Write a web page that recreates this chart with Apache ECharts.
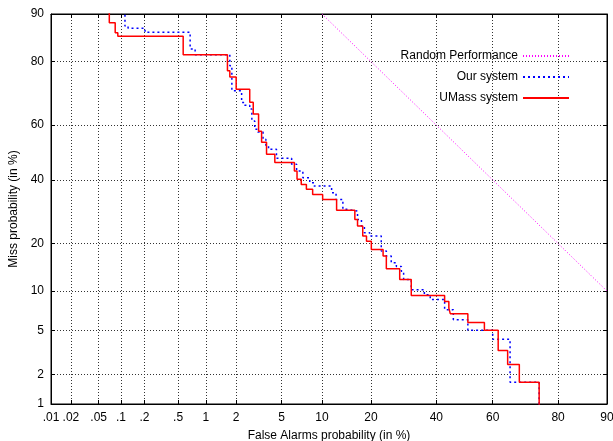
<!DOCTYPE html>
<html>
<head>
<meta charset="utf-8">
<script src="https://cdn.jsdelivr.net/npm/echarts@6/dist/echarts.min.js"></script>
<style>
html,body{margin:0;padding:0;background:#fff;}
#chart{width:613px;height:441px;}
</style>
</head>
<body>
<div id="chart"></div>
<script>
// ---- data (percent) ----
const xTickValues = [0.01, 0.02, 0.05, 0.1, 0.2, 0.5, 1, 2, 5, 10, 20, 40, 60, 80, 90];
const xTickLabels = ['.01', '.02', '.05', '.1', '.2', '.5', '1', '2', '5', '10', '20', '40', '60', '80', '90'];
const yTickValues = [1, 2, 5, 10, 20, 40, 60, 80, 90];
const yTickLabels = ['1', '2', '5', '10', '20', '40', '60', '80', '90'];

const randomFA = [10, 20, 40, 60, 80, 90];
const randomMiss = [90, 80, 60, 40, 20, 10];

const ourFA = [0.113, 0.113, 0.124, 0.203, 0.68, 0.77, 1.74, 1.82, 2.25, 2.41, 2.67, 2.79, 2.96, 3.15, 3.5, 3.7, 3.9, 4.54, 6.0, 6.55, 7.3, 8.2, 8.8, 11.6, 12.4, 13.7, 14.4, 16.8, 17.7, 18.4, 19.7, 22.7, 24.1, 25.5, 27.0, 28.5, 29.2, 31.6, 35.9, 37.9, 42.9, 46.0, 51.2, 60.0, 65.9, 74.9];
const ourMiss = [95, 87.9, 87.5, 86.7, 83.1, 81.7, 78.9, 71.6, 67.8, 66.9, 65.6, 61.5, 58.5, 57.5, 54.9, 52.4, 51.2, 47.9, 45.7, 43.2, 40.8, 39.0, 37.8, 35.5, 33.2, 30.0, 29.4, 26.8, 24.8, 22.9, 22.0, 18.1, 16.9, 15.4, 14.6, 13.6, 12.0, 10.2, 9.4, 8.7, 7.3, 6.1, 5.0, 4.2, 1.68, 0.5];

const umassFA = [0.070, 0.070, 0.084, 0.091, 0.57, 1.65, 1.74, 2.0, 2.67, 2.87, 3.2, 3.4, 3.75, 4.4, 6.3, 6.6, 7.1, 7.75, 8.6, 10.1, 12.5, 16.2, 16.8, 18.0, 18.9, 20.1, 23.2, 24.1, 28.0, 31.6, 42.9, 44.4, 44.9, 51.2, 57.1, 61.9, 65.1, 68.9, 74.9];
const umassMiss = [95, 88.5, 86.6, 85.9, 81.7, 77.5, 75.8, 72.1, 67.9, 63.9, 57.8, 53.8, 49.4, 46.3, 43.2, 40.2, 38.4, 36.7, 34.9, 33.2, 29.7, 26.8, 24.8, 22.0, 20.6, 18.5, 16.9, 14.1, 12.0, 9.3, 8.4, 7.5, 6.8, 5.8, 5.0, 3.35, 2.5, 1.68, 0.5];

// ---- normal deviate (probit) scale ----
function probit(p) {
  const a=[-3.969683028665376e+01,2.209460984245205e+02,-2.759285104469687e+02,1.383577518672690e+02,-3.066479806614716e+01,2.506628277459239e+00];
  const b=[-5.447609879822406e+01,1.615858368580409e+02,-1.556989798598866e+02,6.680131188771972e+01,-1.328068155288572e+01];
  const c=[-7.784894002430293e-03,-3.223964580411365e-01,-2.400758277161838e+00,-2.549732539343734e+00,4.374664141464968e+00,2.938163982698783e+00];
  const d=[7.784695709041462e-03,3.224671290700398e-01,2.445134137142996e+00,3.754408661907416e+00];
  const pl=0.02425, ph=1-pl;
  if (p < pl) { const q=Math.sqrt(-2*Math.log(p)); return (((((c[0]*q+c[1])*q+c[2])*q+c[3])*q+c[4])*q+c[5])/((((d[0]*q+d[1])*q+d[2])*q+d[3])*q+1); }
  if (p <= ph) { const q=p-0.5, r=q*q; return (((((a[0]*r+a[1])*r+a[2])*r+a[3])*r+a[4])*r+a[5])*q/(((((b[0]*r+b[1])*r+b[2])*r+b[3])*r+b[4])*r+1); }
  const q=Math.sqrt(-2*Math.log(1-p)); return -(((((c[0]*q+c[1])*q+c[2])*q+c[3])*q+c[4])*q+c[5])/((((d[0]*q+d[1])*q+d[2])*q+d[3])*q+1);
}
const pz = v => probit(v / 100);
const pairs = (xs, ys) => xs.map((x, i) => [pz(x), pz(ys[i])]);

const xTickZ = xTickValues.map(pz);
const yTickZ = yTickValues.map(pz);
function labelFor(zs, labels) {
  return function (v) {
    let best = 0, bd = Infinity;
    zs.forEach((z, i) => { const dd = Math.abs(z - v); if (dd < bd) { bd = dd; best = i; } });
    return labels[best];
  };
}

const FONT = 'Liberation Sans, Arial, sans-serif';
const gridLine = { show: true, lineStyle: { color: '#333', width: 1, type: [1, 2] } };
const legendCommon = { right: 43, padding: 0, itemWidth: 46, itemHeight: 10, align: 'right', itemGap: 0,
  itemStyle: { opacity: 0 }, textStyle: { fontFamily: FONT, fontSize: 12, color: '#000' } };

const chart = echarts.init(document.getElementById('chart'), null, { renderer: 'canvas' });
chart.setOption({
  animation: false,
  backgroundColor: '#fff',
  textStyle: { fontFamily: FONT },
  grid: { left: 51, right: 6, top: 14, bottom: 37, containLabel: false, outerBoundsMode: 'none',
    show: true, borderColor: '#000', borderWidth: 1, backgroundColor: 'transparent' },
  xAxis: [{
    type: 'value', min: pz(0.01), max: pz(90),
    name: 'False Alarms probability (in %)', nameLocation: 'middle', nameGap: 26,
    nameTextStyle: { fontFamily: FONT, fontSize: 12, color: '#000' },
    axisLine: { show: true, onZero: false, lineStyle: { color: '#000', width: 1 } },
    axisTick: { show: true, inside: true, length: 4, customValues: xTickZ, lineStyle: { color: '#000' } },
    axisLabel: { show: true, customValues: xTickZ, formatter: labelFor(xTickZ, xTickLabels), margin: 8, fontFamily: FONT, fontSize: 12, color: '#000' },
    splitLine: gridLine
  }, {
    type: 'value', position: 'top', min: pz(0.01), max: pz(90),
    axisLine: { show: true, onZero: false, lineStyle: { color: '#000' } },
    axisTick: { show: true, inside: true, length: 4, customValues: xTickZ, lineStyle: { color: '#000' } },
    axisLabel: { show: false }, splitLine: { show: false }
  }],
  yAxis: [{
    type: 'value', min: pz(1), max: pz(90),
    name: 'Miss probability (in %)', nameLocation: 'middle', nameGap: 30,
    nameTextStyle: { fontFamily: FONT, fontSize: 12, color: '#000' },
    axisLine: { show: true, onZero: false, lineStyle: { color: '#000', width: 1 } },
    axisTick: { show: true, inside: true, length: 4, customValues: yTickZ, lineStyle: { color: '#000' } },
    axisLabel: { show: true, customValues: yTickZ, formatter: labelFor(yTickZ, yTickLabels), margin: 7, fontFamily: FONT, fontSize: 12, color: '#000' },
    splitLine: gridLine
  }, {
    type: 'value', position: 'right', min: pz(1), max: pz(90),
    axisLine: { show: true, onZero: false, lineStyle: { color: '#000' } },
    axisTick: { show: true, inside: true, length: 4, customValues: yTickZ, lineStyle: { color: '#000' } },
    axisLabel: { show: false }, splitLine: { show: false }
  }],
  legend: [
    Object.assign({ data: ['Random Performance'], top: 50 }, legendCommon),
    Object.assign({ data: ['Our system'], top: 71 }, legendCommon),
    Object.assign({ data: ['UMass system'], top: 92 }, legendCommon)
  ],
  series: [
    { name: 'Random Performance', type: 'line', symbol: 'none', clip: true, data: pairs(randomFA, randomMiss),
      lineStyle: { color: '#ff00ff', width: 1, type: [1, 2] }, itemStyle: { color: '#ff00ff' } },
    { name: 'Our system', type: 'line', symbol: 'none', step: 'end', clip: true, data: pairs(ourFA, ourMiss),
      lineStyle: { color: '#0000ff', width: 1.5, type: [2, 3] }, itemStyle: { color: '#0000ff' } },
    { name: 'UMass system', type: 'line', symbol: 'none', step: 'end', clip: true, data: pairs(umassFA, umassMiss),
      lineStyle: { color: '#ff0000', width: 1.5, type: 'solid' }, itemStyle: { color: '#ff0000' } }
  ]
});
</script>
</body>
</html>
